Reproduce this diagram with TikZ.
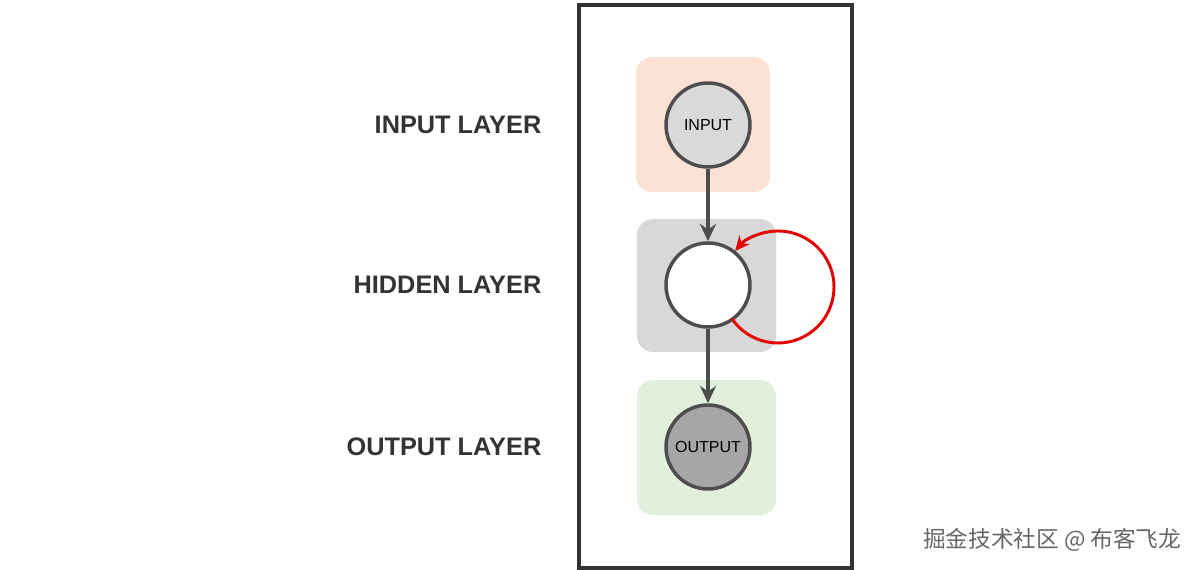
\documentclass[tikz,border=0pt]{standalone}
\usepackage{fontspec}
\setmainfont{Liberation Sans}
\newfontfamily\cjk{Noto Sans CJK SC}
\usetikzlibrary{arrows.meta}
\definecolor{inbg}{RGB}{251,226,212}
\definecolor{hidbg}{RGB}{216,216,216}
\definecolor{outbg}{RGB}{226,239,220}
\definecolor{line}{RGB}{77,77,77}
\tikzset{
  LayerBox/.style = {rounded corners=12pt, draw=none},
  Unit/.style = {circle, draw=line, line width=2.6pt, minimum size=63pt, inner sep=0pt, font=\fontsize{12}{13}\selectfont},
  LayerLabel/.style = {anchor=east, font=\bfseries\fontsize{19}{21}\selectfont, text=black!80},
  Flow/.style = {draw=line, line width=2.8pt, -{Stealth[length=13pt,width=12pt]}},
}
\begin{document}
\begin{tikzpicture}[x=0.75pt,y=-0.75pt]
    \useasboundingbox (0,0) rectangle (1204,570);
    \draw [line width=2.4pt, draw=black!80] (579,5) rectangle (852,568);
    \fill [LayerBox, fill=inbg] (636,57) rectangle (770,192);
    \fill [LayerBox, fill=hidbg] (637,219) rectangle (776,352);
    \fill [LayerBox, fill=outbg] (637,380) rectangle (776,515);
    \node [Unit, fill=black!15] (inp) at (708,125) {INPUT};
    \node [Unit, fill=white] (hid) at (708,285) {};
    \node [Unit, fill=black!35] (out) at (708,447) {OUTPUT};
    \node [LayerLabel] (linp) at (546,125) {INPUT LAYER};
    \node [LayerLabel] (lhid) at (546,285) {HIDDEN LAYER};
    \node [LayerLabel] (lout) at (546,447) {OUTPUT LAYER};
    \draw [Flow] (inp) -- (hid);
    \draw [Flow] (hid) -- (out);
    \coordinate (loopc) at (778,287);
    \draw [red!90!black, line width=2.2pt, -{Stealth[length=11pt,width=10pt]}]
        ([shift={(146:56)}]loopc) arc [start angle=146, end angle=-140, radius=56];
    \node [anchor=east, text=black!60, font=\cjk\fontsize{17}{18}\selectfont] (mark) at (1186,540) {掘金技术社区 @ 布客飞龙};
\end{tikzpicture}
\end{document}
